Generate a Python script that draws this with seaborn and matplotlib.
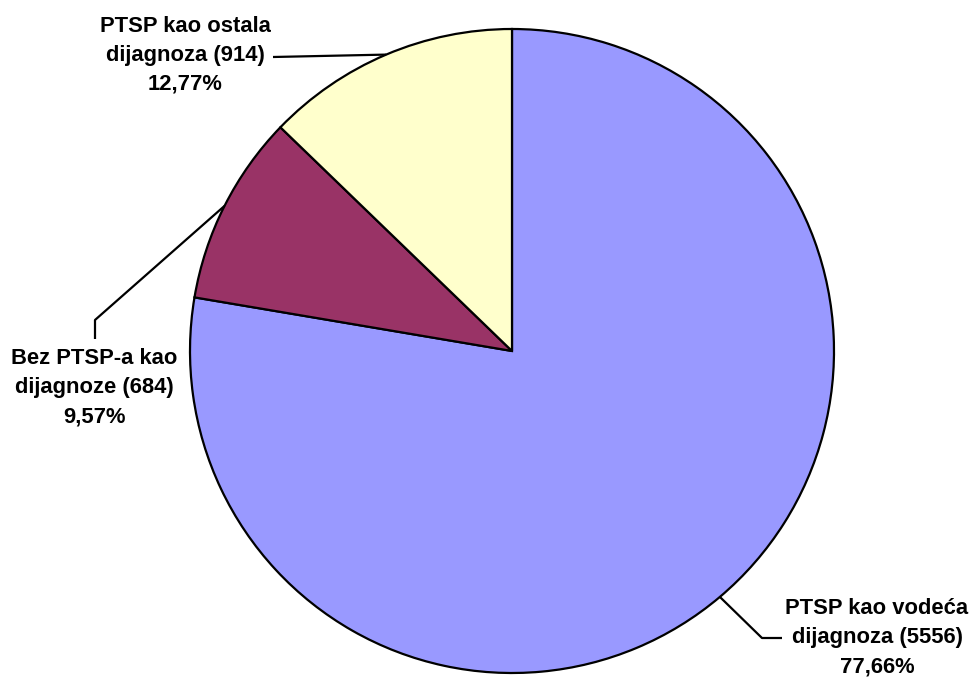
import numpy as np
import matplotlib
matplotlib.use("Agg")
import matplotlib.pyplot as plt
import seaborn as sns

# %% data
categories = ["PTSP kao vodeća\ndijagnoza (5556)",
              "Bez PTSP-a kao\ndijagnoze (684)",
              "PTSP kao ostala\ndijagnoza (914)"]
counts = [5556, 684, 914]
pct_labels = ["77,66%", "9,57%", "12,77%"]
colors = ["#9999FF", "#993366", "#FFFFCC"]

# %% layout (pixel units, y measured from the top of the image)
W, H = 972, 677
center_px = (512, 351)
radius = 322
# label centre, elbow of the leader line, end of the leader line
label_pos = [(877, 638), (94, 388), (185, 55)]
elbows = [(762, 638), (95, 320), None]
line_end = [(782, 638), (95, 339), (273, 57)]

sns.set_theme(style="white")
plt.rcParams['font.family'] = ['Liberation Sans', 'DejaVu Sans']

fig = plt.figure(figsize=(W / 100, H / 100), dpi=100)
ax = fig.add_axes([0, 0, 1, 1])

cx, cy = center_px[0], H - center_px[1]
wedges, _ = ax.pie(counts, colors=colors, startangle=90, counterclock=False,
                   center=(cx, cy), radius=radius, frame=True,
                   wedgeprops=dict(edgecolor='black', linewidth=1.6))
ax.set_xlim(0, W)
ax.set_ylim(0, H)
ax.set_aspect('equal')
ax.axis('off')

# %% leader lines and labels
for i, w in enumerate(wedges):
    mid = np.deg2rad((w.theta1 + w.theta2) / 2)
    xs = [cx + radius * np.cos(mid)]
    ys = [cy + radius * np.sin(mid)]
    if elbows[i] is not None:
        xs.append(elbows[i][0])
        ys.append(H - elbows[i][1])
    xs.append(line_end[i][0])
    ys.append(H - line_end[i][1])
    ax.plot(xs, ys, color='black', lw=1.6, solid_capstyle='butt')
    lx, ly = label_pos[i]
    ax.text(lx, H - ly, categories[i] + "\n" + pct_labels[i],
            ha='center', va='center', fontsize=15.8, fontweight='bold',
            color='black', linespacing=1.5)

fig.savefig("out.png", dpi=100)
